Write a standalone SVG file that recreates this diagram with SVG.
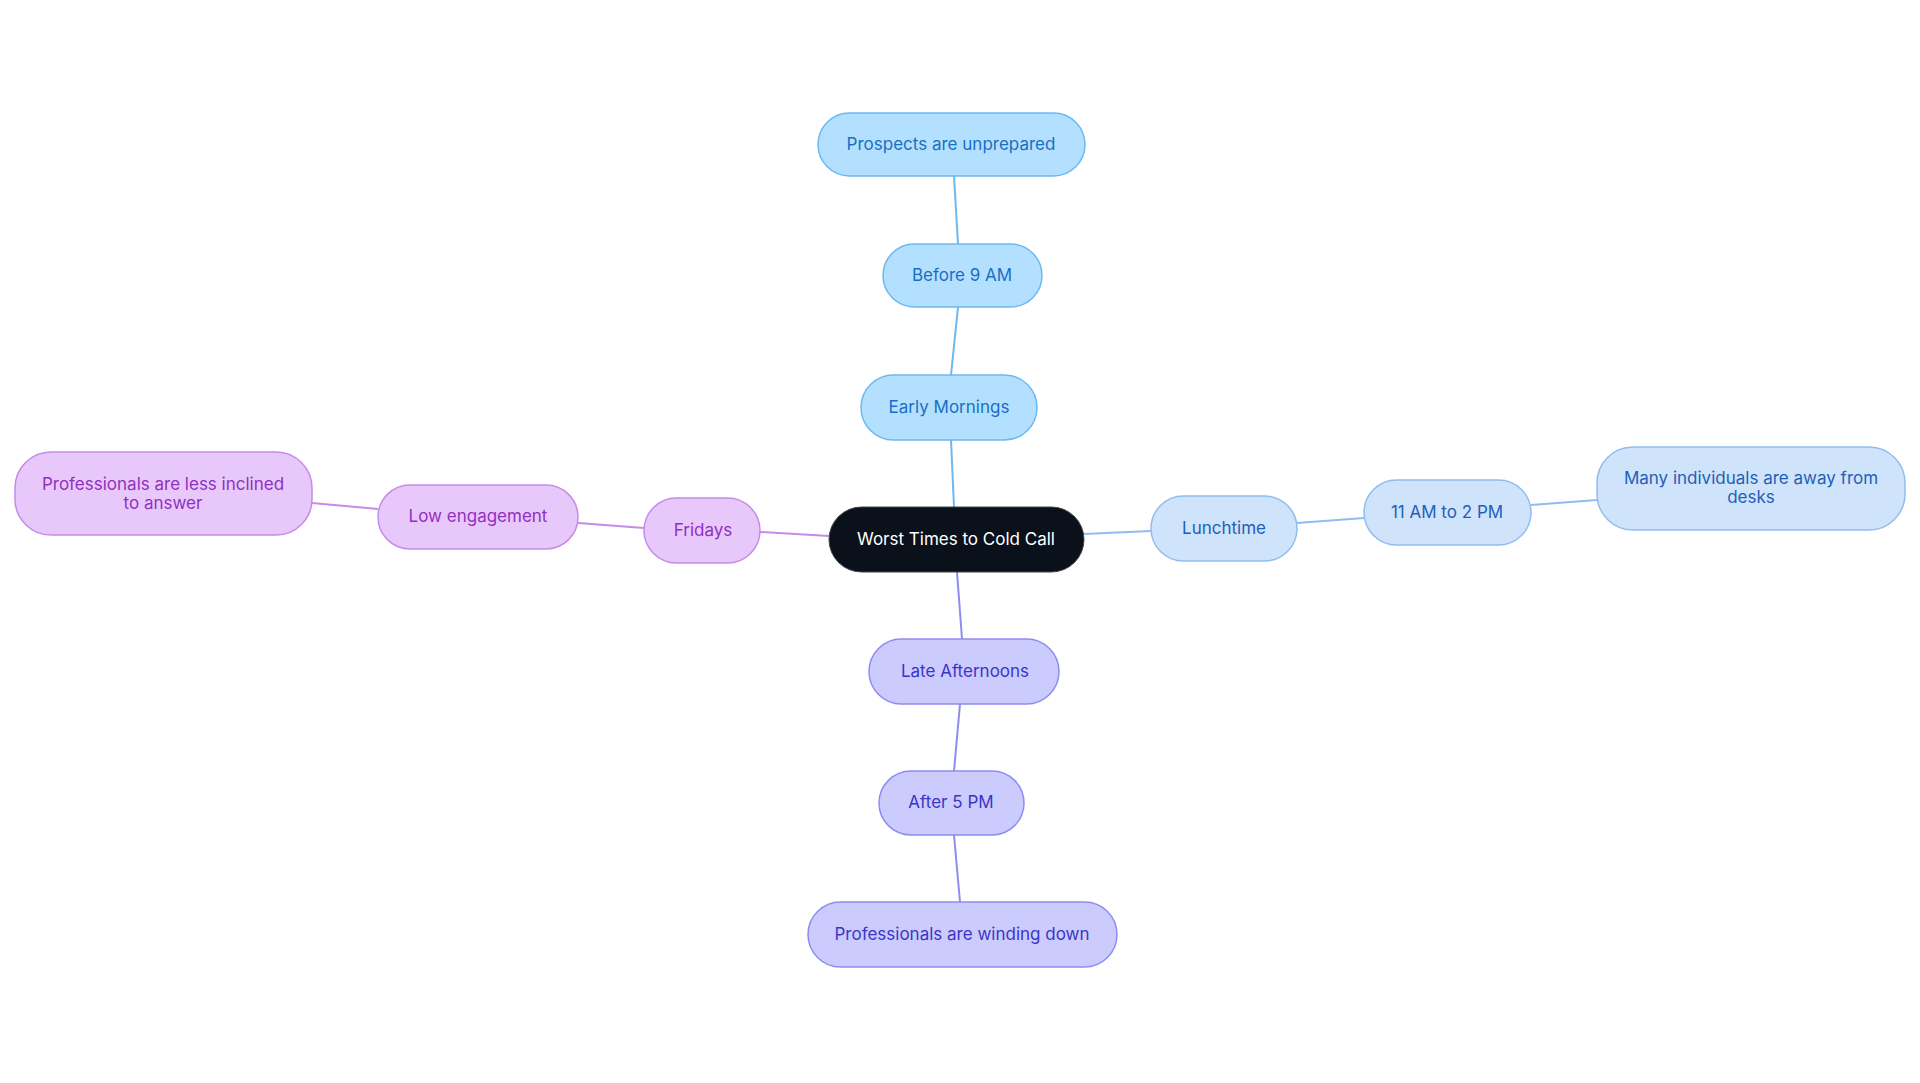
<svg xmlns="http://www.w3.org/2000/svg" width="1920" height="1083" viewBox="0 0 1920 1083">
<style>
text{font-family:Inter,"Noto Sans",sans-serif;font-size:17px;text-anchor:middle;dominant-baseline:central}
.b rect{fill:#b3e0ff;stroke:#6cb8f0;stroke-width:1.5}.b text{fill:#1a6fc4}
.l rect{fill:#cfe3fb;stroke:#90bdf0;stroke-width:1.5}.l text{fill:#1f5fb8}
.p rect{fill:#e8c8fb;stroke:#c58be8;stroke-width:1.5}.p text{fill:#9030c0}
.i rect{fill:#cccbfd;stroke:#8f8cf0;stroke-width:1.5}.i text{fill:#3a35c8}
#edges line{stroke-width:2;fill:none}
</style>
<rect width="1920" height="1083" fill="#fff"/>
<g id="edges">
<line x1="954" y1="507" x2="951" y2="440" stroke="#6cb8f0"/>
<line x1="951" y1="375" x2="958" y2="307" stroke="#6cb8f0"/>
<line x1="958" y1="244" x2="954" y2="176" stroke="#6cb8f0"/>
<line x1="1084" y1="534" x2="1151" y2="531" stroke="#90bdf0"/>
<line x1="1297" y1="523" x2="1364" y2="518" stroke="#90bdf0"/>
<line x1="1531" y1="505" x2="1597" y2="500" stroke="#90bdf0"/>
<line x1="829" y1="536" x2="760" y2="532" stroke="#c58be8"/>
<line x1="644" y1="528" x2="578" y2="523" stroke="#c58be8"/>
<line x1="378" y1="509" x2="312" y2="503" stroke="#c58be8"/>
<line x1="957" y1="572" x2="962" y2="639" stroke="#8f8cf0"/>
<line x1="960" y1="704" x2="954" y2="771" stroke="#8f8cf0"/>
<line x1="954" y1="835" x2="960" y2="902" stroke="#8f8cf0"/>
</g>
<g id="root"><rect x="829" y="507" width="255" height="65" rx="32.5" fill="#0b111a" stroke="#444" stroke-width="1"/><text x="956" y="539" fill="#fff">Worst Times to Cold Call</text></g>
<g id="early" class="b"><rect x="861" y="375" width="176" height="65" rx="32.5"/><text x="949" y="407">Early Mornings</text></g>
<g id="before9" class="b"><rect x="883" y="244" width="159" height="63" rx="31.5"/><text x="962" y="275">Before 9 AM</text></g>
<g id="prospects" class="b"><rect x="818" y="113" width="267" height="63" rx="31.5"/><text x="951" y="144">Prospects are unprepared</text></g>
<g id="lunch" class="l"><rect x="1151" y="496" width="146" height="65" rx="32.5"/><text x="1224" y="528">Lunchtime</text></g>
<g id="t11" class="l"><rect x="1364" y="480" width="167" height="65" rx="32.5"/><text x="1447" y="512">11 AM to 2 PM</text></g>
<g id="many" class="l"><rect x="1597" y="447" width="308" height="83" rx="36"/><text x="1751" y="478">Many individuals are away from</text><text x="1751" y="497">desks</text></g>
<g id="fridays" class="p"><rect x="644" y="498" width="116" height="65" rx="32.5"/><text x="703" y="530">Fridays</text></g>
<g id="low" class="p"><rect x="378" y="485" width="200" height="64" rx="32"/><text x="478" y="516">Low engagement</text></g>
<g id="less" class="p"><rect x="15" y="452" width="297" height="83" rx="36"/><text x="163" y="484">Professionals are less inclined</text><text x="163" y="503">to answer</text></g>
<g id="late" class="i"><rect x="869" y="639" width="190" height="65" rx="32.5"/><text x="965" y="671">Late Afternoons</text></g>
<g id="after5" class="i"><rect x="879" y="771" width="145" height="64" rx="32"/><text x="951" y="802">After 5 PM</text></g>
<g id="winding" class="i"><rect x="808" y="902" width="309" height="65" rx="32.5"/><text x="962" y="934">Professionals are winding down</text></g>
</svg>
